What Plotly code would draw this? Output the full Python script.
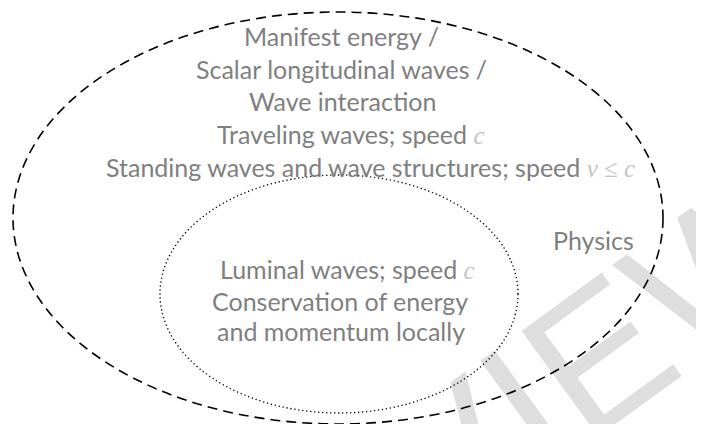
import plotly.graph_objects as go

# Diagram content
outer_lines = [
    "Manifest energy /",
    "Scalar longitudinal waves /",
    "Wave interaction",
    "Traveling waves; speed {m}c{e}",
    "Standing waves and wave structures; speed {m}v ≤ c{e}",
]
outer_line_x = [341, 341, 342, 350, 370]
outer_line_y = [36, 69, 101, 134, 167]

inner_lines = [
    "Luminal waves; speed {m}c{e}",
    "Conservation of energy",
    "and momentum locally",
]
inner_line_x = [347, 340, 341]
inner_line_y = [269, 301, 331]

region_label = ["Physics"]
region_label_x = [593]
region_label_y = [240]

# Ellipses: (x0, x1, y0, y1) in the diagram's pixel-like coordinate frame
outer_ellipse = [13, 663, 12, 424]
inner_ellipse = [160, 518, 175, 413]

watermark = "PREVIEW"

TEXT_COLOR = "#7f7f7f"
MATH_OPEN = "<span style='font-family:\"Liberation Serif\";color:#c4c4c4'><i>"
MATH_CLOSE = "</i></span>"

# page body has an 8px margin: the figure covers page pixels 8..704 / 8..424
OFF = 8
W, H = 704, 424


def fmt(s):
    return s.replace("{m}", MATH_OPEN).replace("{e}", MATH_CLOSE)


fig = go.Figure()

fig.add_shape(type="circle", xref="x", yref="y",
              x0=outer_ellipse[0], x1=outer_ellipse[1],
              y0=outer_ellipse[2], y1=outer_ellipse[3],
              line=dict(color="black", width=1.6, dash="10px,6px"))
fig.add_shape(type="circle", xref="x", yref="y",
              x0=inner_ellipse[0], x1=inner_ellipse[1],
              y0=inner_ellipse[2], y1=inner_ellipse[3],
              line=dict(color="black", width=1.3, dash="1.3px,2.7px"))

font = dict(family="Lato, Carlito, Calibri, sans-serif", size=25, color=TEXT_COLOR)

for txt, x, y in zip(outer_lines, outer_line_x, outer_line_y):
    fig.add_annotation(x=x, y=y, xref="x", yref="y", text=fmt(txt),
                       showarrow=False, xanchor="center", yanchor="middle", font=font)
for txt, x, y in zip(inner_lines, inner_line_x, inner_line_y):
    fig.add_annotation(x=x, y=y, xref="x", yref="y", text=fmt(txt),
                       showarrow=False, xanchor="center", yanchor="middle", font=font)
for txt, x, y in zip(region_label, region_label_x, region_label_y):
    fig.add_annotation(x=x, y=y, xref="x", yref="y", text=txt,
                       showarrow=False, xanchor="center", yanchor="middle", font=font)

# light watermark (paper coords; like the reference it runs off the corner)
wx, wy = 440, 470
fig.add_annotation(x=(wx - OFF) / (W - OFF), y=1 - (wy - OFF) / (H - OFF),
                   xref="paper", yref="paper", text=watermark,
                   showarrow=False, textangle=-36, xanchor="center", yanchor="middle",
                   font=dict(family="Liberation Sans, Arial, sans-serif", size=190,
                             color="rgba(0,0,0,0.13)"))

fig.update_xaxes(range=[OFF, W], visible=False, fixedrange=True)
fig.update_yaxes(range=[H, OFF], visible=False, fixedrange=True)
fig.update_layout(width=W - OFF, height=H - OFF, margin=dict(l=0, r=0, t=0, b=0),
                  paper_bgcolor="white", plot_bgcolor="white", showlegend=False)

fig.write_html("out.html")
